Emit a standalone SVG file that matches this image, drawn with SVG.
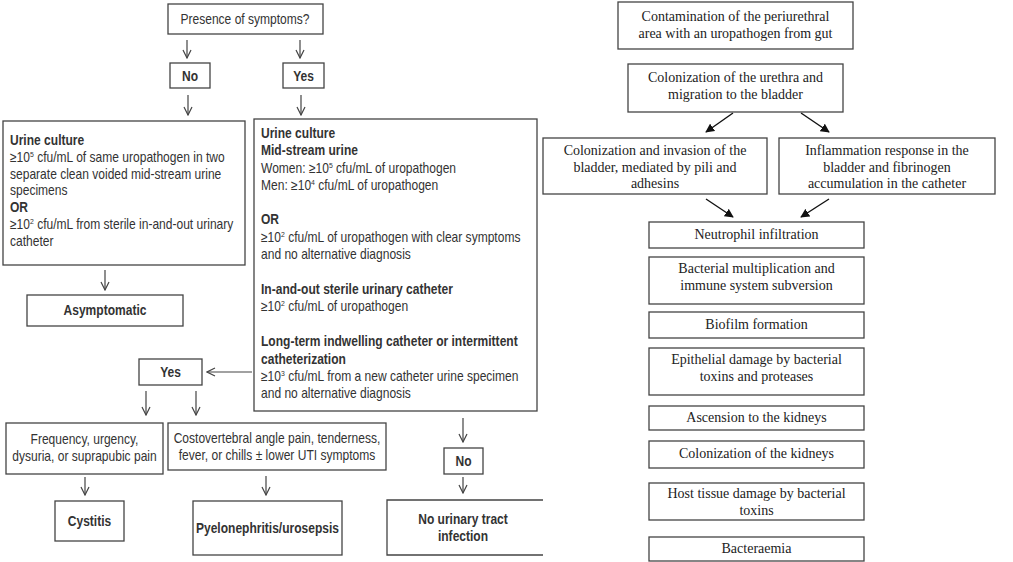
<svg xmlns="http://www.w3.org/2000/svg" width="1013" height="562" viewBox="0 0 1013 562">
<style>
.b{fill:#fff;stroke:#444;stroke-width:1.3}
.s{font-family:"Liberation Sans",Arial,sans-serif;font-size:14px;fill:#333}
.bo{font-weight:bold}
.m{text-anchor:middle}
.r{font-family:"Liberation Serif","DejaVu Serif",serif;font-size:14px;fill:#222;text-anchor:middle}
.c{stroke:#444;stroke-width:1.2;fill:none}
.k{stroke:#111;stroke-width:1.4;fill:none}
</style>
<defs>
<marker id="open" viewBox="0 0 10 10" refX="9" refY="5" markerWidth="10" markerHeight="10" markerUnits="userSpaceOnUse" orient="auto"><path d="M1,1 L9,5 L1,9" fill="none" stroke="#444" stroke-width="1.2"/></marker>
<marker id="solid" viewBox="0 0 10 10" refX="9" refY="5" markerWidth="9" markerHeight="9" markerUnits="userSpaceOnUse" orient="auto"><path d="M0,0 L10,5 L0,10 Z" fill="#111"/></marker>
</defs>
<rect width="1013" height="562" fill="#fff"/>
<g id="connectors">
<line class="c" x1="187" y1="40" x2="187" y2="58" marker-end="url(#open)"/>
<line class="c" x1="300" y1="40" x2="300" y2="58" marker-end="url(#open)"/>
<line class="c" x1="188" y1="95" x2="188" y2="115" marker-end="url(#open)"/>
<line class="c" x1="301" y1="95" x2="301" y2="115" marker-end="url(#open)"/>
<line class="c" x1="105" y1="270" x2="105" y2="290" marker-end="url(#open)"/>
<line class="c" x1="252" y1="372" x2="207" y2="372" marker-end="url(#open)"/>
<line class="c" x1="146" y1="391" x2="146" y2="415" marker-end="url(#open)"/>
<line class="c" x1="196" y1="391" x2="196" y2="415" marker-end="url(#open)"/>
<line class="c" x1="85" y1="477" x2="85" y2="495" marker-end="url(#open)"/>
<line class="c" x1="266" y1="476" x2="266" y2="495" marker-end="url(#open)"/>
<line class="c" x1="463" y1="418" x2="463" y2="442" marker-end="url(#open)"/>
<line class="c" x1="463" y1="477" x2="463" y2="493" marker-end="url(#open)"/>
<line class="k" x1="733" y1="113" x2="706" y2="132" marker-end="url(#solid)"/>
<line class="k" x1="801" y1="113" x2="829" y2="132" marker-end="url(#solid)"/>
<line class="k" x1="706" y1="199" x2="733" y2="217" marker-end="url(#solid)"/>
<line class="k" x1="829" y1="199" x2="801" y2="217" marker-end="url(#solid)"/>
</g>
<g id="presence"><rect class="b" x="168" y="4" width="155" height="30"/><text class="s m" transform="translate(245,0) scale(0.86,1)" x="0" y="24">Presence of symptoms?</text></g>
<g id="no1"><rect class="b" x="170" y="63" width="40" height="25"/><text class="s bo m" transform="translate(190,0) scale(0.86,1)" x="0" y="81">No</text></g>
<g id="yes1"><rect class="b" x="283" y="63" width="41" height="25"/><text class="s bo m" transform="translate(303.5,0) scale(0.86,1)" x="0" y="81">Yes</text></g>
<g id="culture-no">
<rect class="b" x="3" y="121" width="242" height="144"/>
<text class="s" transform="translate(10,0) scale(0.86,1)" x="0" y="145"><tspan class="bo">Urine culture</tspan>
<tspan x="0" dy="16.8">≥10<tspan font-size="8" dy="-5">5</tspan><tspan dy="5"> cfu/mL of same uropathogen in two</tspan></tspan>
<tspan x="0" dy="16.8">separate clean voided mid-stream urine</tspan>
<tspan x="0" dy="16.8">specimens</tspan>
<tspan x="0" dy="16.8" class="bo">OR</tspan>
<tspan x="0" dy="16.8">≥10<tspan font-size="8" dy="-5">2</tspan><tspan dy="5"> cfu/mL from sterile in-and-out urinary</tspan></tspan>
<tspan x="0" dy="16.8">catheter</tspan></text>
</g>
<g id="asymptomatic"><rect class="b" x="27" y="295" width="156" height="31"/><text class="s bo m" transform="translate(105,0) scale(0.86,1)" x="0" y="315">Asymptomatic</text></g>
<g id="culture-yes">
<rect class="b" x="254" y="119" width="283" height="292"/>
<text class="s" transform="translate(261,0) scale(0.86,1)" x="0" y="138"><tspan class="bo">Urine culture</tspan>
<tspan x="0" dy="17.3" class="bo">Mid-stream urine</tspan>
<tspan x="0" dy="17.3">Women: ≥10<tspan font-size="8" dy="-5">5</tspan><tspan dy="5"> cfu/mL of uropathogen</tspan></tspan>
<tspan x="0" dy="17.3">Men: ≥10<tspan font-size="8" dy="-5">4</tspan><tspan dy="5"> cfu/mL of uropathogen</tspan></tspan>
<tspan x="0" dy="34.6" class="bo">OR</tspan>
<tspan x="0" dy="17.3">≥10<tspan font-size="8" dy="-5">2</tspan><tspan dy="5"> cfu/mL of uropathogen with clear symptoms</tspan></tspan>
<tspan x="0" dy="17.3">and no alternative diagnosis</tspan>
<tspan x="0" dy="35" class="bo">In-and-out sterile urinary catheter</tspan>
<tspan x="0" dy="17.3">≥10<tspan font-size="8" dy="-5">2</tspan><tspan dy="5"> cfu/mL of uropathogen</tspan></tspan>
<tspan x="0" dy="35" class="bo">Long-term indwelling catheter or intermittent</tspan>
<tspan x="0" dy="17.3" class="bo">catheterization</tspan>
<tspan x="0" dy="17.3">≥10<tspan font-size="8" dy="-5">3</tspan><tspan dy="5"> cfu/mL from a new catheter urine specimen</tspan></tspan>
<tspan x="0" dy="17.3">and no alternative diagnosis</tspan></text>
</g>
<g id="yes2"><rect class="b" x="139" y="359" width="63" height="26"/><text class="s bo m" transform="translate(170.5,0) scale(0.86,1)" x="0" y="377">Yes</text></g>
<g id="lower"><rect class="b" x="6" y="423" width="157" height="51"/><text class="s m" transform="translate(84.5,0) scale(0.86,1)" x="0" y="444">Frequency, urgency,<tspan x="0" dy="17">dysuria, or suprapubic pain</tspan></text></g>
<g id="upper"><rect class="b" x="168" y="423" width="218" height="47"/><text class="s m" transform="translate(277,0) scale(0.86,1)" x="0" y="443">Costovertebral angle pain, tenderness,<tspan x="0" dy="17">fever, or chills ± lower UTI symptoms</tspan></text></g>
<g id="cystitis"><rect class="b" x="55" y="501" width="69" height="40"/><text class="s bo m" transform="translate(89.5,0) scale(0.86,1)" x="0" y="526">Cystitis</text></g>
<g id="pyelo"><rect class="b" x="193" y="501" width="149" height="54"/><text class="s bo m" transform="translate(267.5,0) scale(0.86,1)" x="0" y="533">Pyelonephritis/urosepsis</text></g>
<g id="no2"><rect class="b" x="444" y="448" width="39" height="26"/><text class="s bo m" transform="translate(463.5,0) scale(0.86,1)" x="0" y="466">No</text></g>
<g id="no-uti"><path class="b" d="M543,500 H387 V555 H543"/><text class="s bo m" transform="translate(463,0) scale(0.86,1)" x="0" y="524">No urinary tract<tspan x="0" dy="17">infection</tspan></text></g>
<g id="contamination"><rect class="b" x="618" y="2" width="235" height="47"/><text class="r" x="735.5" y="21">Contamination of the periurethral<tspan x="735.5" dy="17">area with an uropathogen from gut</tspan></text></g>
<g id="urethra"><rect class="b" x="628" y="64" width="215" height="48"/><text class="r" x="735.5" y="82">Colonization of the urethra and<tspan x="735.5" dy="17">migration to the bladder</tspan></text></g>
<g id="invasion"><rect class="b" x="543" y="138" width="224" height="56"/><text class="r" x="655" y="155">Colonization and invasion of the<tspan x="655" dy="16.5">bladder, mediated by pili and</tspan><tspan x="655" dy="16.5">adhesins</tspan></text></g>
<g id="inflammation"><rect class="b" x="779" y="138" width="216" height="56"/><text class="r" x="887" y="155">Inflammation response in the<tspan x="887" dy="16.5">bladder and fibrinogen</tspan><tspan x="887" dy="16.5">accumulation in the catheter</tspan></text></g>
<g id="neutrophil"><rect class="b" x="649" y="222" width="215" height="26"/><text class="r" x="756.5" y="239">Neutrophil infiltration</text></g>
<g id="multiplication"><rect class="b" x="649" y="257" width="215" height="47"/><text class="r" x="756.5" y="273">Bacterial multiplication and<tspan x="756.5" dy="17">immune system subversion</tspan></text></g>
<g id="biofilm"><rect class="b" x="649" y="312" width="215" height="26"/><text class="r" x="756.5" y="329">Biofilm formation</text></g>
<g id="epithelial"><rect class="b" x="649" y="348" width="215" height="47"/><text class="r" x="756.5" y="364">Epithelial damage by bacterial<tspan x="756.5" dy="17">toxins and proteases</tspan></text></g>
<g id="ascension"><rect class="b" x="649" y="406" width="215" height="24"/><text class="r" x="756.5" y="422">Ascension to the kidneys</text></g>
<g id="kidneys"><rect class="b" x="649" y="441" width="215" height="27"/><text class="r" x="756.5" y="458">Colonization of the kidneys</text></g>
<g id="host"><rect class="b" x="649" y="483" width="215" height="37"/><text class="r" x="756.5" y="498">Host tissue damage by bacterial<tspan x="756.5" dy="17">toxins</tspan></text></g>
<g id="bacteraemia"><rect class="b" x="649" y="537" width="215" height="24"/><text class="r" x="756.5" y="553">Bacteraemia</text></g>
</svg>
